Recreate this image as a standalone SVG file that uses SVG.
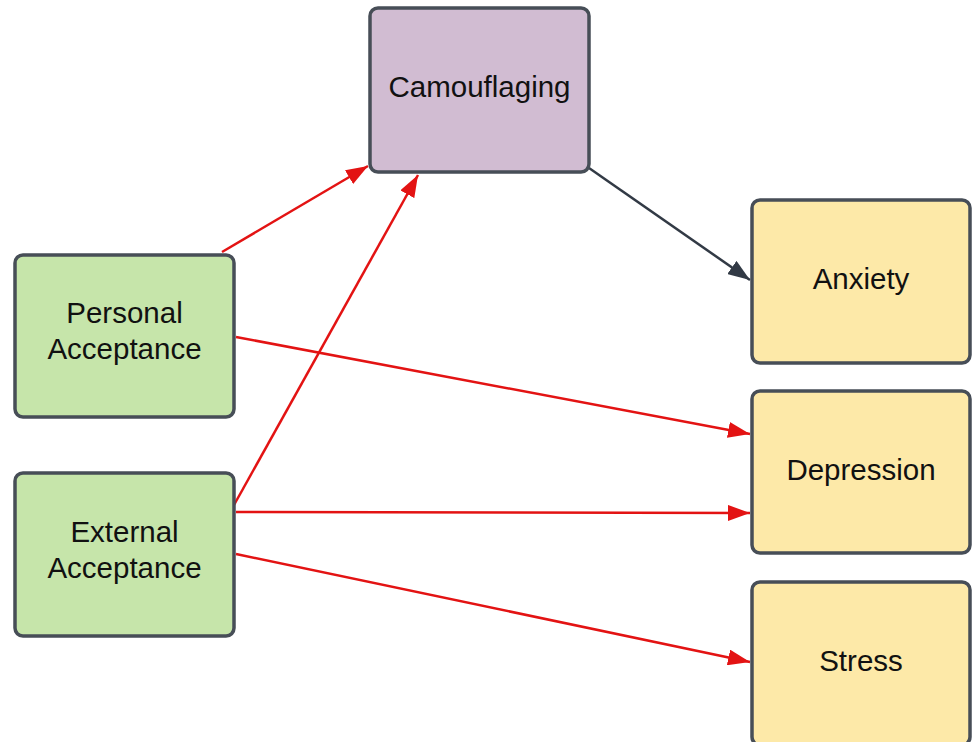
<svg xmlns="http://www.w3.org/2000/svg" width="972" height="742" viewBox="0 0 972 742">
<style>
.box{stroke:#474e57;stroke-width:3.5}
.purple{fill:#d1bcd2}
.green{fill:#c6e5aa}
.yellow{fill:#fde9a8}
.lbl{font-family:"Liberation Sans",Arial,sans-serif;font-size:29.5px;fill:#111;text-anchor:middle}
.red{stroke:#e31313;stroke-width:2.5;fill:none;marker-end:url(#ar)}
.dark{stroke:#323a45;stroke-width:2.5;fill:none;marker-end:url(#ad)}
</style>
<defs>
<marker id="ar" markerWidth="22" markerHeight="16" refX="22" refY="8" orient="auto" markerUnits="userSpaceOnUse" viewBox="0 0 22 16">
<path d="M0,0 L22,8 L0,16 Z" fill="#e31313"/>
</marker>
<marker id="ad" markerWidth="22" markerHeight="16" refX="22" refY="8" orient="auto" markerUnits="userSpaceOnUse" viewBox="0 0 22 16">
<path d="M0,0 L22,8 L0,16 Z" fill="#323a45"/>
</marker>
</defs>
<rect width="972" height="742" fill="#ffffff"/>
<g id="connectors">
<line class="red" x1="222" y1="252" x2="368" y2="166"/>
<line class="red" x1="234" y1="505" x2="418" y2="175"/>
<line class="dark" x1="589" y1="168" x2="750" y2="280"/>
<line class="red" x1="236" y1="337" x2="750" y2="434"/>
<line class="red" x1="236" y1="512" x2="750" y2="513"/>
<line class="red" x1="236" y1="554" x2="750" y2="662"/>
</g>
<g id="camouflaging">
<rect class="box purple" x="370" y="8" width="219" height="164" rx="8"/>
<text class="lbl" x="479.5" y="97">Camouflaging</text>
</g>
<g id="personal">
<rect class="box green" x="15" y="255" width="219" height="162" rx="8"/>
<text class="lbl" x="124.5" y="323">Personal</text>
<text class="lbl" x="124.5" y="359">Acceptance</text>
</g>
<g id="external">
<rect class="box green" x="15" y="473" width="219" height="163" rx="8"/>
<text class="lbl" x="124.5" y="542">External</text>
<text class="lbl" x="124.5" y="578">Acceptance</text>
</g>
<g id="anxiety">
<rect class="box yellow" x="752" y="200" width="218" height="163" rx="8"/>
<text class="lbl" x="861" y="289">Anxiety</text>
</g>
<g id="depression">
<rect class="box yellow" x="752" y="391" width="218" height="162" rx="8"/>
<text class="lbl" x="861" y="480">Depression</text>
</g>
<g id="stress">
<rect class="box yellow" x="752" y="582" width="218" height="163" rx="8"/>
<text class="lbl" x="861" y="671">Stress</text>
</g>
</svg>
